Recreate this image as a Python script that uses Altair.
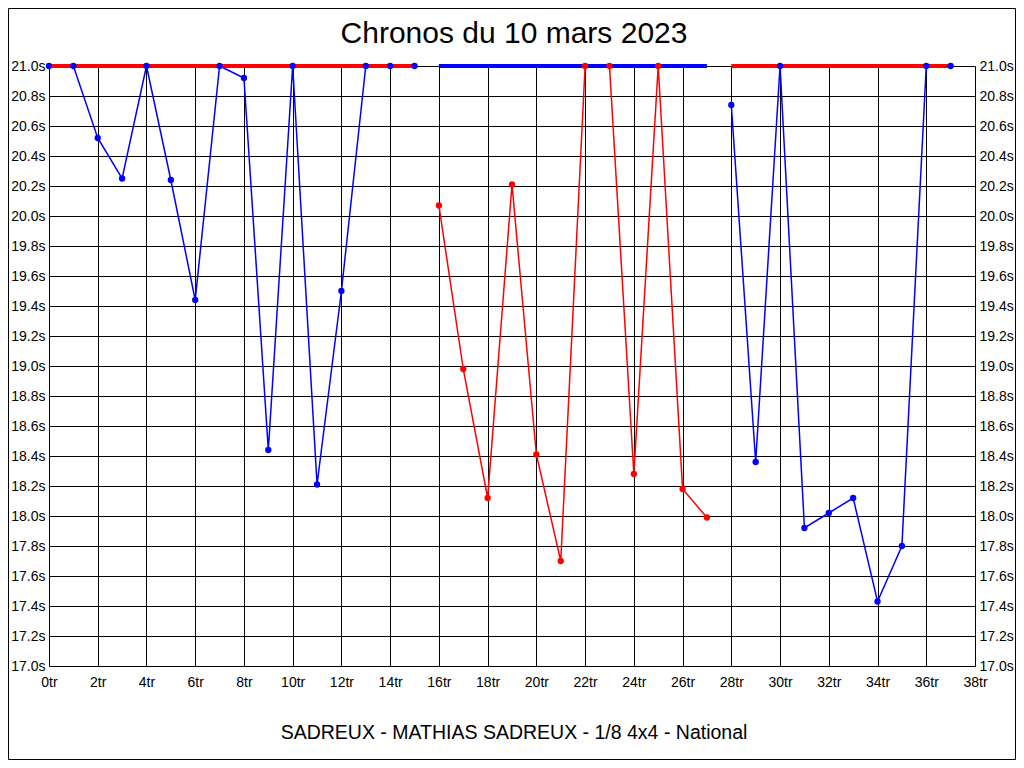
import altair as alt
import pandas as pd

# ---- data ----
blue1_laps = list(range(0, 16))
blue1_times = [21.0, 21.0, 20.52, 20.25, 21.0, 20.24, 19.44, 21.0, 20.92, 18.44,
               21.0, 18.21, 19.50, 21.0, 21.0, 21.0]
red_laps = list(range(16, 28))
red_times = [20.07, 18.98, 18.12, 20.21, 18.41, 17.70, 21.0, 21.0, 18.28, 21.0, 18.18, 17.99]
blue2_laps = list(range(28, 38))
blue2_times = [20.74, 18.36, 21.0, 17.92, 18.02, 18.12, 17.43, 17.80, 21.0, 21.0]

band_start = [0, 16, 28]
band_end = [15, 27, 37]
band_level = [21.0, 21.0, 21.0]
band_color = ["red", "blue", "red"]

TITLE = "Chronos du 10 mars 2023"
SUBTITLE = "SADREUX - MATHIAS SADREUX - 1/8 4x4 - National"
x_ticks = list(range(0, 39, 2))
y_ticks = [round(17.0 + 0.2 * i, 1) for i in range(21)]

rows = []
for seg, (laps, times, col) in enumerate([(blue1_laps, blue1_times, "blue"),
                                          (red_laps, red_times, "red"),
                                          (blue2_laps, blue2_times, "blue")]):
    for l, t in zip(laps, times):
        rows.append({"lap": l, "time": t, "seg": seg, "col": col})
df = pd.DataFrame(rows)
bands = pd.DataFrame({"x0": band_start, "x1": band_end, "y": band_level, "col": band_color})

W, H = 926, 600
FONT = "Liberation Sans"

xscale = alt.Scale(domain=[0, 38], nice=False, zero=False)
yscale = alt.Scale(domain=[17.0, 21.0], nice=False, zero=False)
colscale = alt.Scale(domain=["blue", "red"], range=["#0000FF", "#FF0000"])

xaxis = alt.Axis(values=x_ticks, labelExpr="datum.value + 'tr'", grid=True, gridColor="#000000",
                 gridOpacity=1, gridWidth=1, ticks=False, domain=False, labelFont=FONT,
                 labelFontSize=14, labelColor="#000000", labelPadding=9, title=None,
                 labelFlush=False)
yaxis_l = alt.Axis(values=y_ticks, labelExpr="format(datum.value, '.1f') + 's'", grid=True,
                   gridColor="#000000", gridOpacity=1, gridWidth=1, ticks=False, domain=False,
                   labelFont=FONT, labelFontSize=14, labelColor="#000000", labelPadding=4,
                   title=None, orient="left")
yaxis_r = alt.Axis(values=y_ticks, labelExpr="format(datum.value, '.1f') + 's'", grid=False,
                   ticks=False, domain=False, labelFont=FONT, labelFontSize=14,
                   labelColor="#000000", labelPadding=4, title=None, orient="right")

base = alt.Chart(df)

lines = base.mark_line(strokeWidth=1.5).encode(
    x=alt.X("lap:Q", scale=xscale, axis=xaxis),
    y=alt.Y("time:Q", scale=yscale, axis=yaxis_l),
    color=alt.Color("col:N", scale=colscale, legend=None),
    detail="seg:N",
    order="lap:Q",
)

band_rules = alt.Chart(bands).mark_rule(strokeWidth=4).encode(
    x=alt.X("x0:Q", scale=xscale, axis=xaxis),
    x2="x1:Q",
    y=alt.Y("y:Q", scale=yscale, axis=None),
    color=alt.Color("col:N", scale=colscale, legend=None),
)

points = base.mark_circle(size=40, opacity=1).encode(
    x=alt.X("lap:Q", scale=xscale, axis=xaxis),
    y=alt.Y("time:Q", scale=yscale, axis=yaxis_r),
    color=alt.Color("col:N", scale=colscale, legend=None),
)

title_txt = alt.Chart(pd.DataFrame({"t": [TITLE]})).mark_text(
    font=FONT, fontSize=30, color="#000000", align="center", baseline="middle"
).encode(text="t:N", x=alt.value(465), y=alt.value(-32))

sub_txt = alt.Chart(pd.DataFrame({"t": [SUBTITLE]})).mark_text(
    font=FONT, fontSize=19.5, color="#000000", align="center", baseline="middle"
).encode(text="t:N", x=alt.value(465), y=alt.value(667))

frame = alt.Chart(pd.DataFrame({"t": [0]})).mark_rect(
    fill=None, stroke="#000000", strokeWidth=1
).encode(x=alt.value(-40.5), x2=alt.value(966.5), y=alt.value(-57.5), y2=alt.value(693.5))

chart = alt.layer(lines, band_rules, points, title_txt, sub_txt, frame).resolve_axis(
    y="independent"
).properties(
    width=W, height=H,
    autosize=alt.AutoSizeParams(type="none"),
    padding={"left": 41, "top": 58, "right": 41, "bottom": 94},
    background="#FFFFFF",
).configure_view(stroke=None)

chart.save("out.html", embed_options={"renderer": "svg", "actions": False})
